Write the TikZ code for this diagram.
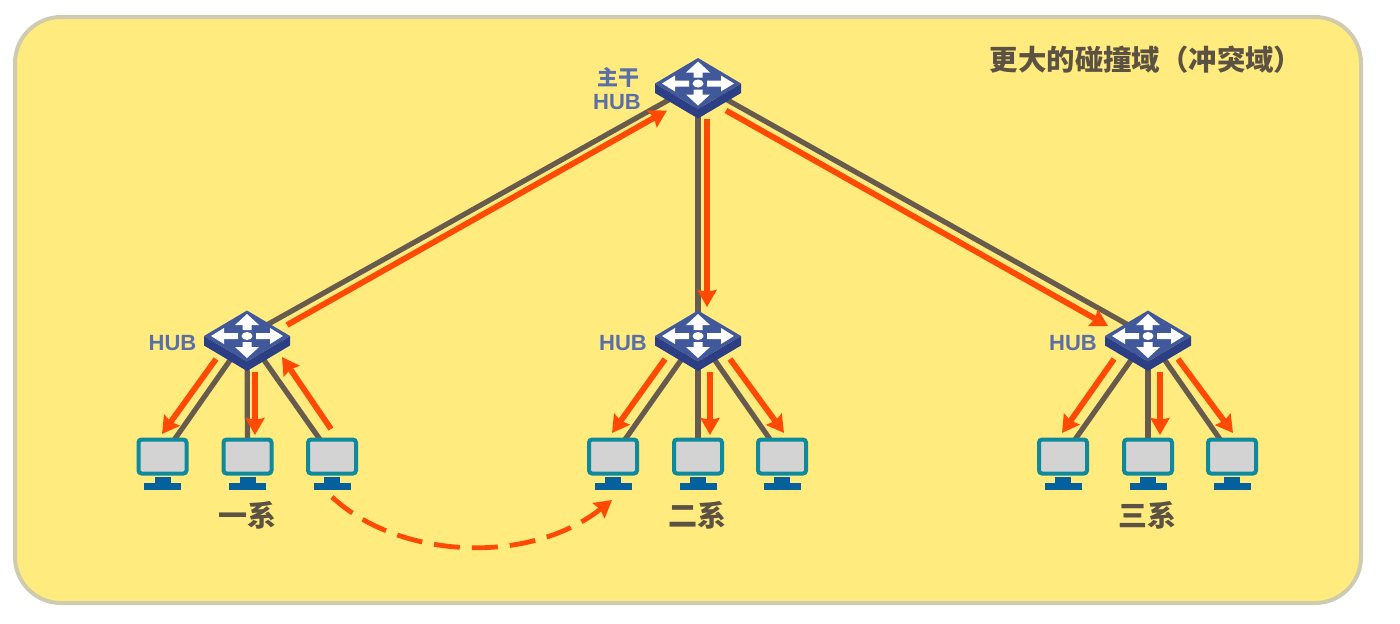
\documentclass[tikz,border=0pt]{standalone}
\usepackage{fontspec}
\setsansfont{Liberation Sans}
\newfontfamily\cjk{Noto Sans CJK SC}
\usetikzlibrary{arrows.meta}

\definecolor{panelFill}{HTML}{FFEB7E}
\definecolor{panelEdge}{HTML}{CFCBAE}
\definecolor{wire}{HTML}{675B4E}
\definecolor{flow}{HTML}{FF4A06}
\definecolor{hubTop}{HTML}{41599B}
\definecolor{hubSide}{HTML}{2C3F85}
\definecolor{hubText}{HTML}{5A6FA6}
\definecolor{pcEdge}{HTML}{0F8A9C}
\definecolor{pcScreen}{HTML}{D3D3D3}
\definecolor{pcStand}{HTML}{05609E}
\definecolor{caption}{HTML}{5C5243}

\begin{document}
\begin{tikzpicture}[x=0.5pt,y=-0.5pt,>={Stealth[length=8.5pt,width=9.5pt,inset=1pt]}]

    %
    % Styles for hubs, computers and edges
    %
    \tikzstyle{panel} = [draw=panelEdge, line width=2pt, fill=panelFill, rounded corners=23pt]
    \tikzstyle{hubBox} = [inner sep=0pt, minimum width=2pt, minimum height=2pt]
    \tikzstyle{pcBox} = [draw=pcEdge, line width=2pt, fill=pcScreen, rounded corners=1.5pt,
                         inner sep=0pt, minimum width=24pt, minimum height=17pt]
    \tikzstyle{wireLine} = [wire, line width=2.6pt]
    \tikzstyle{dataFlow} = [flow, line width=2.9pt, ->]
    \tikzstyle{leapFlow} = [dataFlow, line width=2.4pt, dash pattern=on 13pt off 6pt]
    \tikzstyle{hubLabel} = [text=hubText, font={\sffamily\bfseries\fontsize{11pt}{12pt}\selectfont}, inner sep=0pt]
    \tikzstyle{hubLabelCjk} = [text=hubText, font={\cjk\bfseries\fontsize{10.5pt}{12pt}\selectfont}, inner sep=0pt]
    \tikzstyle{deptLabel} = [text=caption, font={\cjk\bfseries\fontsize{14.5pt}{16pt}\selectfont}, inner sep=0pt]
    \tikzstyle{titleLabel} = [deptLabel, font={\cjk\bfseries\fontsize{14.2pt}{16pt}\selectfont}]

    \tikzset{
      hubIcon/.pic={
        \fill[hubSide] (-43,0) -- (0,25.5) -- (43,0) -- (43,9.5) -- (0,35) -- (-43,9.5) -- cycle;
        \fill[hubTop] (-43,0) -- (0,-25.5) -- (43,0) -- (0,25.5) -- cycle;
        \fill[white] (0,-22) -- (12,-11) -- (4.5,-11) -- (4.5,-6) -- (-4.5,-6) -- (-4.5,-11) -- (-12,-11) -- cycle;
        \fill[white] (0,22) -- (12,11) -- (4.5,11) -- (4.5,6) -- (-4.5,6) -- (-4.5,11) -- (-12,11) -- cycle;
        \fill[white] (-36,0) -- (-23,-8) -- (-23,-3) -- (-9,-3) -- (-9,3) -- (-23,3) -- (-23,8) -- cycle;
        \fill[white] (36,0) -- (23,-8) -- (23,-3) -- (9,-3) -- (9,3) -- (23,3) -- (23,8) -- cycle;
        \fill[white] (0,0) ellipse [x radius=5.5, y radius=4];
      },
      pcStandIcon/.pic={
        \fill[pcStand] (-8,20) rectangle (8,27);
        \fill[pcStand] (-18.5,26) rectangle (18.5,33);
      }
    }

    \useasboundingbox (0,0) rectangle (1400,623);
    \draw[panel] (15,17) rectangle (1361,603);

    %
    % Position hubs and computers
    %
    \node[hubBox, name=hubMain] at (698,83.5) {};
    \node[hubBox, name=hubOne] at (247,336) {};
    \node[hubBox, name=hubTwo] at (698,336) {};
    \node[hubBox, name=hubThree] at (1148,336) {};

    \coordinate (pcOneA) at (162.5,456.5);
    \coordinate (pcOneB) at (247.5,456.5);
    \coordinate (pcOneC) at (332,456.5);
    \coordinate (pcTwoA) at (613,456.5);
    \coordinate (pcTwoB) at (698,456.5);
    \coordinate (pcTwoC) at (782,456.5);
    \coordinate (pcThreeA) at (1063,456.5);
    \coordinate (pcThreeB) at (1148,456.5);
    \coordinate (pcThreeC) at (1232,456.5);

    %
    % Wires sit under the icons
    %
    \draw[wireLine] (hubMain.center) -- (hubOne.center);
    \draw[wireLine] (hubMain.center) -- (hubTwo.center);
    \draw[wireLine] (hubMain.center) -- (hubThree.center);
    \draw[wireLine] (hubOne.center) -- (pcOneA);
    \draw[wireLine] (hubOne.center) -- (pcOneB);
    \draw[wireLine] (hubOne.center) -- (pcOneC);
    \draw[wireLine] (hubTwo.center) -- (pcTwoA);
    \draw[wireLine] (hubTwo.center) -- (pcTwoB);
    \draw[wireLine] (hubTwo.center) -- (pcTwoC);
    \draw[wireLine] (hubThree.center) -- (pcThreeA);
    \draw[wireLine] (hubThree.center) -- (pcThreeB);
    \draw[wireLine] (hubThree.center) -- (pcThreeC);

    \pic at (hubMain) {hubIcon};
    \pic at (hubOne) {hubIcon};
    \pic at (hubTwo) {hubIcon};
    \pic at (hubThree) {hubIcon};

    \node[pcBox, name=screenOneA] at (pcOneA) {};
    \node[pcBox, name=screenOneB] at (pcOneB) {};
    \node[pcBox, name=screenOneC] at (pcOneC) {};
    \node[pcBox, name=screenTwoA] at (pcTwoA) {};
    \node[pcBox, name=screenTwoB] at (pcTwoB) {};
    \node[pcBox, name=screenTwoC] at (pcTwoC) {};
    \node[pcBox, name=screenThreeA] at (pcThreeA) {};
    \node[pcBox, name=screenThreeB] at (pcThreeB) {};
    \node[pcBox, name=screenThreeC] at (pcThreeC) {};

    \pic at (pcOneA) {pcStandIcon};
    \pic at (pcOneB) {pcStandIcon};
    \pic at (pcOneC) {pcStandIcon};
    \pic at (pcTwoA) {pcStandIcon};
    \pic at (pcTwoB) {pcStandIcon};
    \pic at (pcTwoC) {pcStandIcon};
    \pic at (pcThreeA) {pcStandIcon};
    \pic at (pcThreeB) {pcStandIcon};
    \pic at (pcThreeC) {pcStandIcon};

    %
    % Red arrows run beside the wires
    %
    \draw ([shift={(40,-11)}]hubOne.center) edge[dataFlow] ([shift={(-31,27)}]hubMain.center);
    \draw ([shift={(9,35)}]hubMain.center) edge[dataFlow] ([shift={(9,-29)}]hubTwo.center);
    \draw ([shift={(28,27)}]hubMain.center) edge[dataFlow] ([shift={(-40,-10)}]hubThree.center);

    \draw ([shift={(-31,23)}]hubOne.center) edge[dataFlow] ([shift={(-85,98)}]hubOne.center);
    \draw ([shift={(8,36)}]hubOne.center) edge[dataFlow] ([shift={(8,99)}]hubOne.center);
    \draw ([shift={(84,93)}]hubOne.center) edge[dataFlow] ([shift={(35,21)}]hubOne.center);

    \draw ([shift={(-33,23)}]hubTwo.center) edge[dataFlow] ([shift={(-86,97)}]hubTwo.center);
    \draw ([shift={(12,36)}]hubTwo.center) edge[dataFlow] ([shift={(12,99)}]hubTwo.center);
    \draw ([shift={(32,23)}]hubTwo.center) edge[dataFlow] ([shift={(86,97)}]hubTwo.center);

    \draw ([shift={(-34,23)}]hubThree.center) edge[dataFlow] ([shift={(-86,97)}]hubThree.center);
    \draw ([shift={(12,36)}]hubThree.center) edge[dataFlow] ([shift={(12,99)}]hubThree.center);
    \draw ([shift={(30,23)}]hubThree.center) edge[dataFlow] ([shift={(85,97)}]hubThree.center);

    \coordinate (leapFrom) at (332,497);
    \coordinate (leapTo) at (612,500);
    \draw[leapFlow] (leapFrom) .. controls (400,560) and (530,565) .. (leapTo);

    %
    % Labels
    %
    \node[hubLabelCjk, name=labelMainTop] at (618,77) {主干};
    \node[hubLabel, name=labelMain] at (617,102) {HUB};
    \node[hubLabel, name=labelOne] at (172.5,343) {HUB};
    \node[hubLabel, name=labelTwo] at (623,343) {HUB};
    \node[hubLabel, name=labelThree] at (1073,343) {HUB};
    \node[deptLabel, name=deptOne] at (247,515) {一系};
    \node[deptLabel, name=deptTwo] at (697,515) {二系};
    \node[deptLabel, name=deptThree] at (1147,515) {三系};
    \node[titleLabel, name=title] at (1146,60) {更大的碰撞域（冲突域）};
  \end{tikzpicture}
\end{document}
